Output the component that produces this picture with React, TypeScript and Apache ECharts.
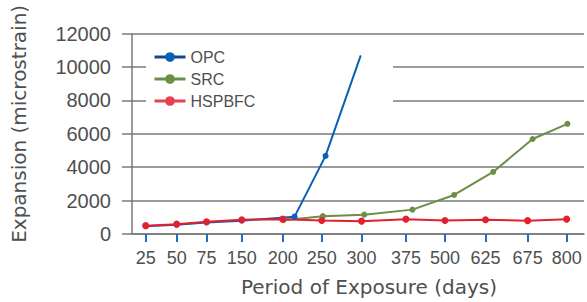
import { useEffect, useRef } from "react";
import * as echarts from "echarts";

// Category labels (days) and their positions along the (unevenly spaced) x axis
const dayLabels = ["25", "50", "75", "150", "200", "250", "300", "375", "500", "625", "675", "800"];
const dayPositions = [1, 1.81, 2.59, 3.51, 4.58, 5.6, 6.64, 7.8, 8.82, 9.88, 10.98, 12];

// HSPBFC series (at the category positions)
const hspbfcValues = [500, 590, 730, 850, 890, 810, 770, 890, 810, 850, 800, 890];

// OPC series
const opcPositions = [1, 1.81, 2.59, 3.51, 4.89, 5.7, 6.62];
const opcValues = [470, 560, 690, 800, 1040, 4680, 10700];

// SRC series
const srcPositions = [4.6, 5.63, 6.71, 7.97, 9.06, 10.08, 11.11, 12.02];
const srcValues = [830, 1070, 1160, 1460, 2340, 3720, 5690, 6600];

// Axis ranges
const xMin = 0.642;
const xMax = 12.453;
const yMin = 0;
const yMax = 12000;
const yStep = 2000;

const BLUE = "#0a5fb6";
const GREEN = "#6b8f47";
const RED = "#e2202e";
const TEXT = "#4f4f4f";
const GRID = "#7a7a7a";

export default function App() {
  const ref = useRef<HTMLDivElement>(null);

  useEffect(() => {
    if (!ref.current) return;
    const chart = echarts.init(ref.current, undefined, { renderer: "svg" });

    const labelFor = (v: number) => {
      let best = 0;
      for (let i = 1; i < dayPositions.length; i++) {
        if (Math.abs(dayPositions[i] - v) < Math.abs(dayPositions[best] - v)) best = i;
      }
      return dayLabels[best];
    };

    const opcData = opcPositions.map((p, i) =>
      i === opcPositions.length - 1
        ? { value: [p, opcValues[i]], symbol: "none" }
        : { value: [p, opcValues[i]] }
    );
    const srcData = srcPositions.map((p, i) => [p, srcValues[i]]);
    const hspData = dayPositions.map((p, i) => [p, hspbfcValues[i]]);

    chart.setOption({
      animation: false,
      backgroundColor: "#ffffff",
      grid: { left: 132, right: 3, top: 33.7, bottom: 66.3, containLabel: false },
      legend: {
        orient: "vertical",
        left: 153,
        top: 49,
        padding: 0,
        itemWidth: 31,
        itemHeight: 12,
        itemGap: 6,
        textStyle: { fontFamily: "Liberation Sans", fontSize: 16, color: TEXT, lineHeight: 16 },
        data: [
          { name: "OPC", itemStyle: { color: BLUE }, lineStyle: { color: "#12458f", width: 3 } },
          { name: "SRC", itemStyle: { color: GREEN }, lineStyle: { color: GREEN, width: 3 } },
          { name: "HSPBFC", itemStyle: { color: "#e8414f" }, lineStyle: { color: "#e8414f", width: 3 } },
        ],
      },
      graphic: [
        {
          type: "rect",
          z: 1,
          silent: true,
          shape: { x: 146, y: 42, width: 247, height: 78 },
          style: { fill: "#ffffff" },
        },
      ],
      xAxis: {
        type: "value",
        min: xMin,
        max: xMax,
        name: "Period of Exposure (days)",
        nameLocation: "middle",
        nameGap: 43,
        nameTextStyle: {
          fontFamily: "DejaVu Sans",
          fontSize: 20,
          color: TEXT,
          padding: [0, 0, 0, 22],
        },
        axisLine: { show: true, lineStyle: { color: GRID, width: 1.5 } },
        axisTick: {
          show: true,
          customValues: dayPositions,
          length: 8,
          lineStyle: { color: "#1f6fc2", width: 2 },
        },
        axisLabel: {
          customValues: dayPositions,
          formatter: (v: number) => labelFor(v),
          margin: 15,
          fontFamily: "Liberation Sans",
          fontSize: 18,
          color: TEXT,
        },
        splitLine: { show: false },
      },
      yAxis: {
        type: "value",
        min: yMin,
        max: yMax,
        interval: yStep,
        name: "Expansion (microstrain)",
        nameLocation: "middle",
        nameGap: 103,
        nameTextStyle: {
          fontFamily: "DejaVu Sans",
          fontSize: 20,
          color: TEXT,
          padding: [0, 0, 0, 20],
        },
        axisLine: { show: true, lineStyle: { color: GRID, width: 1.5 } },
        axisTick: { show: true, length: 10, lineStyle: { color: GRID, width: 1.5 } },
        axisLabel: {
          margin: 21,
          formatter: (v: number) => String(v),
          fontFamily: "Liberation Sans",
          fontSize: 20,
          color: TEXT,
        },
        splitLine: { show: true, lineStyle: { color: GRID, width: 1.5 } },
      },
      series: [
        {
          name: "OPC",
          type: "line",
          data: opcData,
          symbol: "circle",
          symbolSize: 6,
          lineStyle: { color: BLUE, width: 2 },
          itemStyle: { color: BLUE },
          z: 2,
        },
        {
          name: "SRC",
          type: "line",
          data: srcData,
          symbol: "circle",
          symbolSize: 6,
          lineStyle: { color: GREEN, width: 2 },
          itemStyle: { color: GREEN },
          z: 2,
        },
        {
          name: "HSPBFC",
          type: "line",
          data: hspData,
          symbol: "circle",
          symbolSize: 7,
          lineStyle: { color: RED, width: 2 },
          itemStyle: { color: RED },
          z: 2,
        },
      ],
    });

    return () => chart.dispose();
  }, []);

  return (
    <div
      ref={ref}
      style={{ position: "fixed", left: 0, top: 0, width: 587, height: 302 }}
    />
  );
}
